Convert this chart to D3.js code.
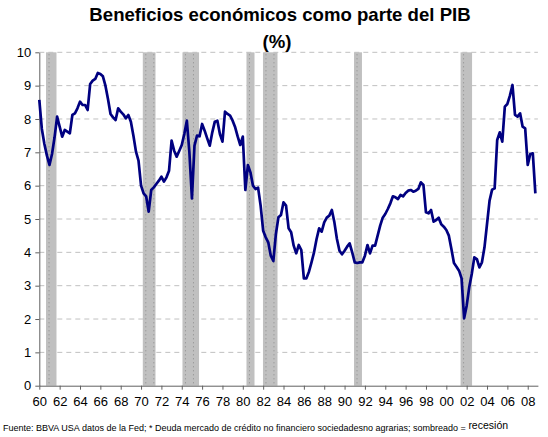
<!DOCTYPE html>
<html><head><meta charset="utf-8">
<script src="https://cdn.jsdelivr.net/npm/d3@7"></script>
<style>
html,body{margin:0;padding:0;background:#fff;}
svg{display:block;font-family:"Liberation Sans",Arial,sans-serif;}
</style></head>
<body><svg id="c" width="548" height="437"></svg>
<script>
// Quarterly series, 1960Q1 .. 2008Q4 (% of GDP)
const startYear = 1960;
const values = [
 8.57,7.70,7.25,6.90, 6.62,6.95,7.45,8.07, 7.77,7.47,7.67,7.62, 7.57,8.12,8.17,8.32,
 8.52,8.42,8.42,8.27, 9.05,9.15,9.20,9.38, 9.35,9.28,9.00,8.60, 8.15,8.05,7.97,8.32,
 8.22,8.14,8.02,8.12, 7.92,7.50,7.02,6.75, 6.00,5.77,5.68,5.22, 5.87,5.95,6.05,6.15,
 6.27,6.12,6.25,6.45, 7.35,7.05,6.87,7.04, 7.22,7.55,7.95,7.00, 5.62,7.20,7.50,7.48,
 7.85,7.65,7.42,7.20, 7.60,7.92,7.95,7.55, 7.32,8.22,8.15,8.10, 7.95,7.75,7.47,7.22,
 7.47,5.87,6.62,6.40, 6.00,5.90,5.94,5.40, 4.65,4.45,4.30,3.90, 3.74,4.55,5.05,5.12,
 5.50,5.40,4.72,4.60, 4.20,3.97,4.22,4.07, 3.22,3.22,3.42,3.70, 4.00,4.40,4.72,4.62,
 4.90,5.04,5.10,5.27, 4.90,4.40,4.05,3.94, 4.05,4.17,4.27,4.00, 3.70,3.68,3.70,3.70,
 3.90,4.22,3.97,4.20, 4.20,4.50,4.80,5.04, 5.15,5.30,5.47,5.68, 5.65,5.60,5.72,5.68,
 5.78,5.85,5.87,5.82, 5.85,5.90,6.10,6.02, 5.20,5.17,5.27,4.92, 4.97,5.04,4.84,4.77,
 4.67,4.50,4.10,3.68, 3.57,3.45,3.22,2.02, 2.40,2.95,3.35,3.85, 3.80,3.55,3.70,4.15,
 4.85,5.55,5.88,5.92, 7.37,7.60,7.32,8.37, 8.45,8.70,9.02,8.12, 8.07,8.17,7.77,7.72,
 6.62,6.95,6.97,5.77
];
// Recession shading (decimal years)
const recStart = [1960.66, 1970.17, 1974.07, 1980.36, 1981.98, 1990.93, 2001.40];
const recEnd   = [1961.69, 1971.42, 1975.70, 1981.15, 1983.41, 1991.71, 2002.53];
// Axis ticks
const xTickYears = d3.range(1960, 2009, 2);
const xTickLabels = ["60","62","64","66","68","70","72","74","76","78","80","82","84","86","88","90","92","94","96","98","00","02","04","06","08"];
const yTicks = [0,1,2,3,4,5,6,7,8,9,10];

const title1 = "Beneficios económicos como parte del PIB";
const title2 = "(%)";
const source = "Fuente: BBVA USA datos de la Fed; * Deuda mercado de crédito no financiero sociedadesno agrarias; sombreado = ";
const sourceTail = "recesión";

const svg = d3.select("#c");
const L = 39.3, R = 537.9, T = 52.3, B = 385.7;
const x = d3.scaleLinear().domain([1960, 2009]).range([L, R]);
const y = d3.scaleLinear().domain([0, 10]).range([B, T]);

// gridlines
svg.append("g").selectAll("line").data(yTicks.filter(d => d > 0)).join("line")
  .attr("x1", L).attr("x2", R).attr("y1", d => y(d)).attr("y2", d => y(d))
  .attr("stroke", "#c0c0c0").attr("stroke-width", 1).attr("stroke-dasharray", "5,4");

// recession bands
const bands = svg.append("g");
recStart.forEach((s, i) => {
  const x0 = x(s), x1 = x(recEnd[i]);
  bands.append("rect").attr("x", x0).attr("y", T).attr("width", x1 - x0).attr("height", B - T)
    .attr("fill", "#c0c0c0");
  for (let cx = x0 + 3; cx < x1 - 1.5; cx += 8) {
    bands.append("line").attr("x1", cx).attr("x2", cx).attr("y1", T + 2).attr("y2", B)
      .attr("stroke", "#8c8c8c").attr("stroke-width", 1).attr("stroke-dasharray", "1,3");
  }
});

// axes
const xAxis = d3.axisBottom(x).tickValues(xTickYears).tickSize(4).tickSizeOuter(0)
  .tickFormat((d, i) => xTickLabels[i]);
const gx = svg.append("g").attr("transform", `translate(0,${B})`).call(xAxis);
gx.select(".domain").attr("stroke", "#606060");
gx.selectAll(".tick line").attr("stroke", "#606060");
gx.selectAll("text").attr("font-size", 13).attr("fill", "#000").attr("dy", "1.05em")
  .attr("font-family", "Liberation Sans, Arial, sans-serif");

const yAxis = d3.axisLeft(y).tickValues(yTicks).tickSize(4).tickSizeOuter(0).tickFormat(d3.format("d"));
const gy = svg.append("g").attr("transform", `translate(${L},0)`).call(yAxis);
gy.select(".domain").attr("stroke", "#606060");
gy.selectAll(".tick line").attr("stroke", "#606060");
gy.selectAll("text").attr("font-size", 13).attr("fill", "#000").attr("x", -8)
  .attr("font-family", "Liberation Sans, Arial, sans-serif");

// line
const data = values.map((v, i) => ({t: startYear + i * 0.25, v}));
svg.append("path").datum(data)
  .attr("fill", "none").attr("stroke", "#000080").attr("stroke-width", 2.7)
  .attr("stroke-linejoin", "round")
  .attr("d", d3.line().x(d => x(d.t)).y(d => y(d.v)));

// titles
svg.append("text").attr("x", 280).attr("y", 21).attr("text-anchor", "middle")
  .attr("font-size", 18.6).attr("font-weight", "bold").text(title1);
svg.append("text").attr("x", 277).attr("y", 48).attr("text-anchor", "middle")
  .attr("font-size", 18.6).attr("font-weight", "bold").text(title2);

// source
const st = svg.append("text").attr("x", 3).attr("y", 431).attr("font-size", 9).attr("fill", "#000");
st.append("tspan").text(source);
st.append("tspan").attr("font-size", 10.5).attr("dy", -2).text(sourceTail);
</script></body></html>
